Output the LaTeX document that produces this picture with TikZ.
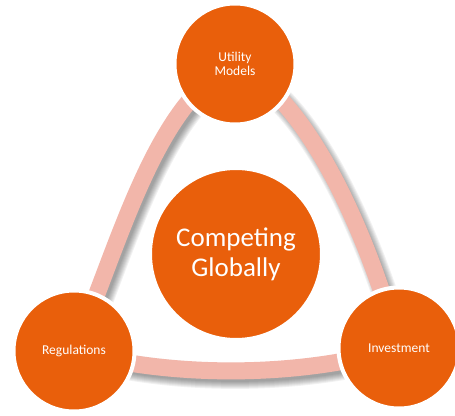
\documentclass[tikz,border=0pt]{standalone}
\usepackage{fontspec}
\setmainfont{Carlito}
\definecolor{orng}{HTML}{E95F0B}
\definecolor{bandc}{HTML}{F2B6AA}
\pgfdeclarelayer{bandshadow}
\pgfdeclarelayer{bandlayer}
\pgfdeclarelayer{circshadow}
\pgfsetlayers{bandshadow,bandlayer,circshadow,main}
\begin{document}
\begin{tikzpicture}[x=1pt,y=-1pt,
  bubble/.style={circle, fill=orng, draw=white, line width=4pt, text=white,
    align=center, inner sep=0pt, minimum size=121pt,
    font=\fontsize{13.5}{14}\selectfont},
  bigbubble/.style={bubble, minimum size=172pt, font=\fontsize{27}{30}\selectfont},
  bandline/.style={draw=bandc, line width=17pt},
  shadowfill/.style={fill=black, opacity=0.06},
]
\useasboundingbox (0,0) rectangle (455,415);

% nodes
\node[bubble] (top) at (235,64) {Utility\\Models};
\node[bubble] (left) at (74,351) {Regulations};
\node[bubble] (right) at (399,348) {Investment};
\node[bigbubble] (center) at (236,254) {Competing\\Globally};

% control points of the band
\coordinate (r1) at (320,105);
\coordinate (r2) at (378,270);
\coordinate (b1) at (300,378);
\coordinate (b2) at (170,378);
\coordinate (l1) at (118,250);
\coordinate (l2) at (155,100);

% band shadow
\begin{pgfonlayer}{bandshadow}
\foreach \k [evaluate=\k as \lw using 26-2*\k] in {0,...,7}
  \draw[black, opacity=0.055, line width=\lw pt, transform canvas={shift={(4,5)}}]
    (top.center) .. controls (r1) and (r2) .. (right.center)
    .. controls (b1) and (b2) .. (left.center)
    .. controls (l1) and (l2) .. (top.center);
\end{pgfonlayer}

% band
\begin{pgfonlayer}{bandlayer}
\draw[bandline] (top.center) .. controls (r1) and (r2) .. (right.center);
\draw[bandline] (right.center) .. controls (b1) and (b2) .. (left.center);
\draw[bandline] (left.center) .. controls (l1) and (l2) .. (top.center);
\end{pgfonlayer}

% circle shadows
\begin{pgfonlayer}{circshadow}
\foreach \n/\r in {top/62.5, left/62.5, right/62.5, center/88}
  \foreach \k [evaluate=\k as \rr using \r+4-\k] in {0,...,7}
    \fill[shadowfill] ([shift={(4,5)}]\n.center) circle (\rr);
\end{pgfonlayer}
\end{tikzpicture}
\end{document}
